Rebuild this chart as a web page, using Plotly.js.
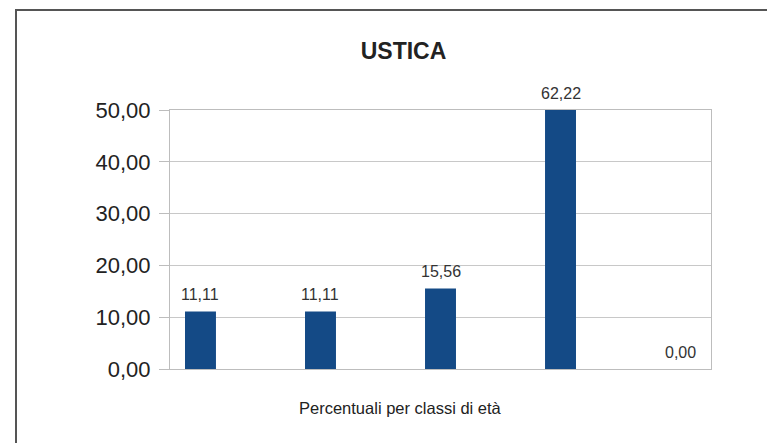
<!DOCTYPE html>
<html>
<head>
<meta charset="utf-8">
<script src="https://cdn.plot.ly/plotly-3.0.1.min.js"></script>
<style>
  html, body { margin: 0; padding: 0; background: #fff; }
  #wrap { position: relative; width: 767px; height: 443px; }
  #chart { width: 767px; height: 443px; }
  #frame { position: absolute; left: 15px; top: 9px; right: 0; bottom: 0;
           border-left: 2px solid #555; border-top: 2px solid #555; pointer-events: none; }
</style>
</head>
<body>
<div id="wrap">
  <div id="chart"></div>
  <div id="frame"></div>
</div>
<script>
const categories = ['Classe 1', 'Classe 2', 'Classe 3', 'Classe 4', 'Classe 5'];
const values = [11.11, 11.11, 15.56, 62.22, 0.00];
const yTickVals = [0, 10, 20, 30, 40, 50];
const yTickText = ['0,00', '10,00', '20,00', '30,00', '40,00', '50,00'];
const chartTitle = 'USTICA';
const xTitle = 'Percentuali per classi di età';

const yMax = 50;
const fmt = v => v.toFixed(2).replace('.', ',');

const labelAnnotations = categories.map((c, i) => ({
  x: c, xref: 'x', y: Math.min(values[i], yMax), yref: 'y',
  text: fmt(values[i]), showarrow: false, yanchor: 'bottom', yshift: 6,
  font: { family: 'Liberation Sans, Arial, sans-serif', size: 16, color: '#333' }
}));

const trace = {
  type: 'bar',
  x: categories,
  y: values,
  width: 0.258,
  marker: { color: '#144a86', line: { width: 0 } },
  hoverinfo: 'none'
};

const layout = {
  width: 767, height: 443,
  margin: { l: 170, r: 56, t: 110, b: 74 },
  paper_bgcolor: '#fff', plot_bgcolor: '#fff',
  showlegend: false,
  title: {
    text: '<b>' + chartTitle + '</b>',
    x: 403.5 / 767, xref: 'container', xanchor: 'center',
    y: 1 - 51 / 443, yref: 'container', yanchor: 'middle',
    font: { family: 'Liberation Sans, Arial, sans-serif', size: 23, color: '#222' }
  },
  xaxis: {
    type: 'category',
    range: [-0.254, 4.254],
    showticklabels: false,
    ticks: '',
    showgrid: false,
    zeroline: false,
    showline: true, mirror: true, linecolor: '#bdbdbd', linewidth: 1
  },
  yaxis: {
    range: [0, yMax],
    tickvals: yTickVals,
    ticktext: yTickText,
    ticks: 'outside', ticklen: 10, tickcolor: '#bdbdbd', tickwidth: 1,
    ticklabelstandoff: 4,
    tickfont: { family: 'Liberation Sans, Arial, sans-serif', size: 22, color: '#222' },
    showgrid: true, gridcolor: '#c8c8c8', gridwidth: 1,
    zeroline: false,
    showline: true, mirror: true, linecolor: '#bdbdbd', linewidth: 1
  },
  annotations: labelAnnotations.concat([{
    x: (400 - 170) / 541, xref: 'paper', xanchor: 'center',
    y: -39 / 259, yref: 'paper', yanchor: 'middle',
    text: xTitle, showarrow: false,
    font: { family: 'Liberation Sans, Arial, sans-serif', size: 16.5, color: '#222' }
  }])
};

Plotly.newPlot('chart', [trace], layout, { staticPlot: true, displayModeBar: false });
</script>
</body>
</html>
